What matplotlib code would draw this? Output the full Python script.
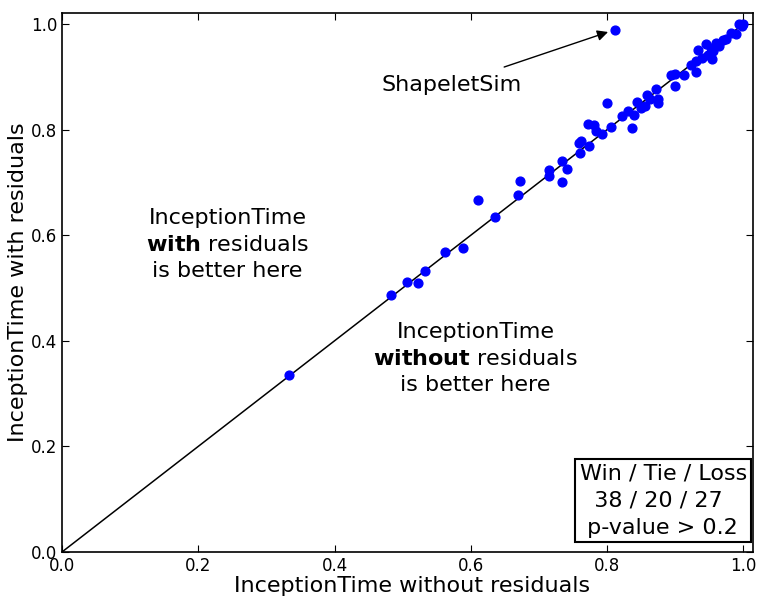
import numpy as np
import matplotlib
matplotlib.use('Agg')
import matplotlib.pyplot as plt

# accuracy of InceptionTime without residuals (x) and with residuals (y)
acc_without = [0.333, 0.483, 0.506, 0.522, 0.533, 0.562, 0.589, 0.611, 0.635,
               0.669, 0.672, 0.714, 0.715, 0.733, 0.741, 0.733, 0.760, 0.761,
               0.759, 0.773, 0.772, 0.780, 0.784, 0.793, 0.806, 0.800, 0.822,
               0.831, 0.836, 0.840, 0.844, 0.850, 0.855, 0.859, 0.863, 0.872,
               0.874, 0.875, 0.893, 0.900, 0.899, 0.913, 0.923, 0.930, 0.931,
               0.934, 0.939, 0.945, 0.948, 0.953, 0.954, 0.956, 0.960, 0.964,
               0.970, 0.975, 0.982, 0.989, 0.994, 0.998, 1.000, 0.811]
acc_with = [0.336, 0.486, 0.512, 0.509, 0.533, 0.568, 0.576, 0.666, 0.635,
            0.676, 0.702, 0.723, 0.713, 0.741, 0.726, 0.700, 0.755, 0.778,
            0.775, 0.768, 0.811, 0.808, 0.797, 0.792, 0.805, 0.850, 0.825,
            0.835, 0.803, 0.828, 0.852, 0.841, 0.844, 0.866, 0.857, 0.876,
            0.857, 0.851, 0.903, 0.906, 0.883, 0.904, 0.923, 0.909, 0.929,
            0.950, 0.936, 0.962, 0.942, 0.955, 0.933, 0.948, 0.964, 0.958,
            0.969, 0.971, 0.983, 0.981, 0.999, 0.996, 1.000, 0.989]

# dataset pointed out with an arrow
highlight = 'ShapeletSim'
highlight_xy = (0.811, 0.989)

wins, ties, losses = 38, 20, 27

fig = plt.figure(figsize=(7.57, 5.99), dpi=100)
ax = fig.add_axes([0.0819, 0.0785, 0.9128, 0.900])

ax.plot([0, 1], [0, 1], color='black', linewidth=1.1)
ax.scatter(acc_without, acc_with, s=40, color='blue', edgecolors='blue', zorder=3)

ax.set_xlim(0, 1.014)
ax.set_ylim(0, 1.021)
ax.set_xticks([0.0, 0.2, 0.4, 0.6, 0.8, 1.0])
ax.set_yticks([0.0, 0.2, 0.4, 0.6, 0.8, 1.0])
ax.tick_params(direction='in', top=True, right=True, labelsize=12, length=5)
for sp in ax.spines.values():
    sp.set_linewidth(1.2)

ax.set_xlabel('InceptionTime without residuals', fontsize=16)
ax.xaxis.set_label_coords(0.507, -0.045)
ax.xaxis.label.set_verticalalignment('top')
ax.set_ylabel('InceptionTime with residuals', fontsize=16, labelpad=2)

ax.text(0.243, 0.582, 'InceptionTime\n$\\bf{with}$ residuals\nis better here',
        ha='center', va='center', fontsize=16, linespacing=1.4)
ax.text(0.607, 0.366, 'InceptionTime\n$\\bf{without}$ residuals\nis better here',
        ha='center', va='center', fontsize=16, linespacing=1.4)

ax.annotate(highlight, xy=highlight_xy, xytext=(0.572, 0.885),
            ha='center', va='center', fontsize=16,
            arrowprops=dict(arrowstyle='-|>', color='black', lw=1,
                            shrinkA=11, shrinkB=5, mutation_scale=16))

ax.text(0.991, 0.026,
        'Win / Tie / Loss\n  %d / %d / %d\n p-value > 0.2' % (wins, ties, losses),
        transform=ax.transAxes, ha='right', va='bottom', fontsize=16,
        multialignment='left', linespacing=1.45,
        bbox=dict(boxstyle='square,pad=0.2', facecolor='white',
                  edgecolor='black', linewidth=1.5))

fig.savefig('out.png', dpi=100)
